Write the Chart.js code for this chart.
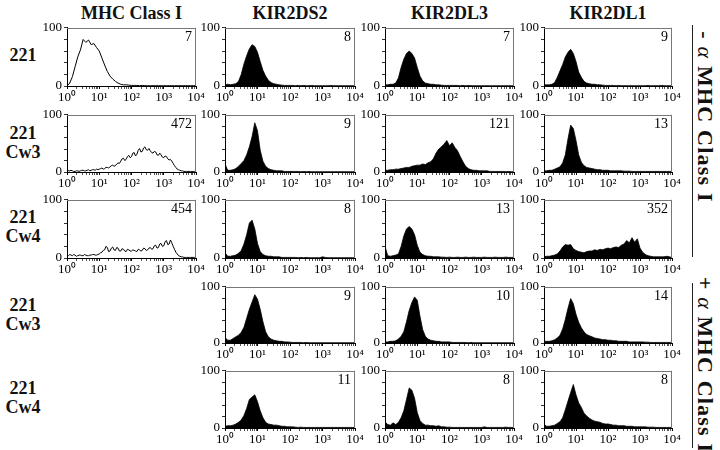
<!DOCTYPE html>
<html><head><meta charset="utf-8">
<script src="https://cdn.jsdelivr.net/npm/chart.js@4.4.1/dist/chart.umd.min.js"></script>
<style>
html,body{margin:0;padding:0;background:#fff;}
#fig{position:relative;width:720px;height:450px;overflow:hidden;font-family:'Liberation Serif','Times New Roman',serif;color:#111;}
.hdr{position:absolute;font-weight:bold;font-size:18px;text-align:center;width:160px;line-height:20px;white-space:nowrap;}
.rl{position:absolute;font-weight:bold;font-size:18px;text-align:center;width:50px;line-height:19px;}
canvas{position:absolute;}
.vline{position:absolute;width:1px;background:#222;}
.vt{position:absolute;writing-mode:vertical-rl;font-weight:bold;font-size:22px;letter-spacing:1.2px;white-space:nowrap;line-height:24px;transform:translate(-50%,-50%);}
.vt i{font-weight:normal;}
</style></head>
<body><div id="fig"></div>
<script>
// ---------- labels ----------
const columns = ['MHC Class I','KIR2DS2','KIR2DL3','KIR2DL1'];
const rowLabels = [['221'],['221','Cw3'],['221','Cw4'],['221','Cw3'],['221','Cw4']];
const sideLabels = [['- ','α',' MHC Class I'],['+ ','α',' MHC Class I']];
const xTickLabels = ['10⁰','10¹','10²','10³','10⁴'];
const yTickLabels = ['0','100'];
const counts = [[7,8,7,9],[472,9,121,13],[454,8,13,352],[null,9,10,14],[null,11,8,8]];

// ---------- histogram values (equal log bins spanning 10^0 .. 10^4) ----------
const r1_mhc = [0,5,16,33,50,62,80,75,79,71,73,66,
  60,48,36,25,17,12,8,5,3,2,2,1.5,
  1,1,1,0.5,1,0.5,0.5,0.5,0.5,0.5,0.5,0.5,
  0.5,0.5,0.5,0.5,0.5,0.5,0.5,0.5,0.5,0.5,0.5,0.5, 0.5];
const r1_ds2 = [2,3,2,3,4,8,20,38,52,64,71,68,
  58,42,27,17,10,6,4,3,2,1.5,1,1,
  1,1,0.5,1,0.5,1,0.5,0.5,1,0.5,0.5,0.5,
  0.5,0.5,0.5,1,0.5,0.5,0.5,0.5,0.5,0.5,0.5,0.5, 0.5];
const r1_dl3 = [2,2,3,3,5,14,32,46,56,60,56,48,
  32,17,9,5,4,3,3,2,2,1.5,1,1,
  1,1,1,1,0.5,1,0.5,1,0.5,0.5,0.5,0.5,
  0.5,0.5,0.5,0.5,0.5,0.5,0.5,0.5,0.5,0.5,0.5,0.5, 0.5];
const r1_dl1 = [2,2,2,3,6,15,26,37,50,58,63,56,
  42,24,15,8,5,4,3,3,2,2,1.5,1,
  1,1,1,0.5,1,0.5,0.5,0.5,0.5,0.5,0.5,0.5,
  0.5,0.5,0.5,1,0.5,0.5,0.5,0.5,1,0.5,0.5,0.5, 0.5];

const r2_mhc = [6,2,2,3,2,1,1,2,2,1,2,3,3,2,2,3,4,2,3,4,4,3,5,4,
  5,6,7,5,6,8,8,7,9,11,12,10,11,14,16,15,19,23,24,20,22,27,29,25,
  27,33,34,28,31,38,41,35,36,42,44,39,38,41,37,34,33,36,35,30,29,33,30,26,
  25,28,27,23,21,22,19,15,11,8,5,4,3,2,2,1,1,1,1,1,1,0.5,1,1, 1];
const r2_ds2 = [14,3,3,4,6,10,15,20,30,44,62,86,
  72,38,19,10,6,4,3,2,2,2,1,1,
  1,1,1,1,0.5,1,0.5,1,0.5,0.5,0.5,0.5,
  0.5,0.5,0.5,0.5,0.5,0.5,0.5,0.5,0.5,0.5,0.5,0.5, 0.5];
const r2_dl3 = [3,3,4,4,5,5,6,7,8,8,10,11,
  12,12,14,13,16,18,23,33,40,44,49,55,
  46,51,43,37,27,18,10,6,4,3,3,2,
  2,2,2,1,1,1,1,1,1,0.5,1,0.5, 0.5];
const r2_dl1 = [2,2,3,3,5,7,9,16,30,58,82,76,
  55,30,17,11,8,7,6,5,4,4,3,3,
  3,2,2,2,2,2,1.5,1.5,1.5,1,1,1,
  1,1,1,1,1,1,1,1,1,1,1,1, 1];

const r3_mhc = [5,4,6,5,4,6,5,3,4,5,5,4,4,6,5,4,4,5,5,6,6,5,5,6,
  7,9,10,13,14,20,18,11,12,17,19,14,13,18,17,12,12,16,15,12,11,15,14,12,
  12,14,13,12,11,15,14,12,13,17,16,13,14,17,18,15,16,21,22,17,18,24,25,20,
  21,28,30,23,24,31,26,20,15,10,7,4,3,2,2,1,1,1,1,1,1,1,1,1, 1];
const r3_ds2 = [9,3,3,4,5,8,13,24,40,60,65,50,
  25,11,6,4,3,3,2,2,2,1,1,1,
  1,1,1,0.5,1,0.5,1,0.5,0.5,0.5,0.5,0.5,
  2,1,0.5,0.5,0.5,0.5,0.5,0.5,0.5,0.5,0.5,0.5, 0.5];
const r3_dl3 = [20,4,3,4,5,7,20,38,50,54,50,40,
  22,10,6,4,3,3,2,2,2,1.5,1.5,1,
  1.5,1,1,1.5,1,1,1.5,1,1,1.5,1,1,
  1,1.5,1,1,1,1.5,1,1,1,1.5,1,1, 1];
const r3_dl1 = [2,3,3,4,5,7,12,19,23,22,23,16,
  13,11,10,9,11,12,12,14,13,15,14,16,
  17,16,18,19,18,22,24,30,26,35,27,33,
  17,10,6,4,3,2,2,2,2,2,3,2, 1];

const r4_ds2 = [10,5,5,8,11,14,19,28,44,60,73,86,
  78,60,38,20,11,7,5,4,3,3,2,2,
  1.5,1,1,1,1,0.5,1,0.5,0.5,0.5,0.5,0.5,
  0.5,0.5,0.5,0.5,0.5,0.5,0.5,0.5,0.5,0.5,0.5,0.5, 0.5];
const r4_dl3 = [2,2,3,3,4,7,12,20,38,58,72,82,
  76,48,24,12,7,5,4,3,3,2,2,2,
  2,1,1,1,1,1,1,0.5,1,0.5,0.5,0.5,
  0.5,0.5,0.5,0.5,0.5,0.5,0.5,0.5,0.5,0.5,0.5,0.5, 0.5];
const r4_dl1 = [3,3,3,4,6,9,14,25,42,62,79,70,
  51,37,27,20,15,13,11,9,8,7,6,6,
  5,5,4,4,3,3,3,3,2,2,2,2,
  2,2,1.5,1.5,1,1,1,1,1,1,1,1, 1];

const r5_ds2 = [3,4,4,5,7,10,14,22,34,50,54,58,
  46,30,18,10,7,6,5,5,4,3,3,2,
  2,2,1.5,1,1.5,1,1,1,1,1,1,1,
  1,1,1,1,1,1,1,1,1,1,1,1, 1];
const r5_dl3 = [11,6,5,9,6,10,18,30,50,70,66,52,
  27,13,8,5,5,4,4,3,4,2,2,1.5,
  1.5,1,1,1,1,1,1,1,1,1,1,1,
  1,2,1,1,1,1,1,1,1,1.5,1,1, 1];
const r5_dl1 = [6,3,3,4,5,8,11,18,32,47,62,76,
  58,44,36,26,21,17,14,12,11,10,8,7,
  7,6,5,5,4,4,4,3,3,3,2,2,
  2,2,2,1.5,1.5,1.5,1,1,1,1,1,1, 1];

const series = [
  [r1_mhc, r1_ds2, r1_dl3, r1_dl1],
  [r2_mhc, r2_ds2, r2_dl3, r2_dl1],
  [r3_mhc, r3_ds2, r3_dl3, r3_dl1],
  [null,   r4_ds2, r4_dl3, r4_dl1],
  [null,   r5_ds2, r5_dl3, r5_dl1]
];
const DECADES = 4;

// ---------- layout (positions / styles) ----------
const COL_L = [67,225,385,544], COL_R = [196,355,514,672];
const ROW_T = [26,113,198,285,369], ROW_B = [86,172,258,343,428];
const AX_W = 32, AX_H = 20, PAD_T = 8, PAD_R = 12;
const FONT = "'Liberation Serif', 'Times New Roman', serif";
const fig = document.getElementById('fig');

// tick positions on the log axis (decades)
const xTickValues = [];
for (let d = 0; d < DECADES; d++) for (let m = 1; m <= 9; m++) xTickValues.push(d + Math.log10(m));
xTickValues.push(DECADES);
const yTickValues = [0,20,40,60,80,100];

// headers
columns.forEach((t, c) => {
  const el = document.createElement('div');
  el.className = 'hdr'; el.textContent = t;
  el.style.left = ((COL_L[c] + COL_R[c]) / 2 - 80) + 'px';
  el.style.top = '3px';
  fig.appendChild(el);
});
// row labels
const rowLabelTop = [45.5, 123.5, 207.5, 295.5, 378.5];
rowLabels.forEach((lines, r) => {
  const el = document.createElement('div');
  el.className = 'rl';
  el.innerHTML = lines.join('<br>');
  el.style.left = '-2px';
  el.style.top = rowLabelTop[r] + 'px';
  fig.appendChild(el);
});
// side labels + lines
const sideSpan = [[25,257],[283,448]];
const sideCenter = [117, 365];
sideLabels.forEach((parts, k) => {
  const ln = document.createElement('div');
  ln.className = 'vline';
  ln.style.left = '692px'; ln.style.top = sideSpan[k][0] + 'px';
  ln.style.height = (sideSpan[k][1] - sideSpan[k][0]) + 'px';
  fig.appendChild(ln);
  const el = document.createElement('div');
  el.className = 'vt';
  el.innerHTML = parts[0] + '<i>' + parts[1] + '</i>' + parts[2];
  el.style.left = '705px'; el.style.top = sideCenter[k] + 'px';
  fig.appendChild(el);
});

const boxPlugin = {
  id: 'countLabel',
  afterDatasetsDraw(chart, args, opts) {
    const { ctx, chartArea: a } = chart;
    ctx.save();
    ctx.strokeStyle = '#777'; ctx.lineWidth = 1;
    ctx.beginPath();
    ctx.moveTo(a.left, Math.round(a.top) + 0.5);
    ctx.lineTo(a.right, Math.round(a.top) + 0.5);
    ctx.moveTo(Math.round(a.right) - 0.5, a.top);
    ctx.lineTo(Math.round(a.right) - 0.5, a.bottom);
    ctx.stroke();
    if (opts.text) {
      ctx.fillStyle = '#000';
      ctx.font = '14px ' + FONT;
      ctx.textAlign = 'right'; ctx.textBaseline = 'top';
      ctx.fillText(opts.text, a.right - 4, a.top + 3);
    }
    ctx.restore();
  }
};

function makePanel(r, c) {
  const values = series[r][c];
  if (!values) return;
  const filled = c > 0;
  const cv = document.createElement('canvas');
  const w = COL_R[c] - COL_L[c] + AX_W + PAD_R;
  const h = ROW_B[r] - ROW_T[r] + PAD_T + AX_H;
  cv.width = w; cv.height = h;
  cv.style.width = w + 'px'; cv.style.height = h + 'px';
  cv.style.left = (COL_L[c] - AX_W) + 'px';
  cv.style.top = (ROW_T[r] - PAD_T) + 'px';
  fig.appendChild(cv);
  const step = DECADES / (values.length - 1);
  const pts = values.map((v, i) => ({ x: i * step, y: v }));
  new Chart(cv, {
    type: 'line',
    data: { datasets: [{
      data: pts, borderColor: '#000',
      backgroundColor: filled ? '#000' : 'rgba(0,0,0,0)',
      borderWidth: filled ? 0.8 : 1, fill: filled ? 'origin' : false,
      pointRadius: 0, tension: 0
    }] },
    options: {
      responsive: false, animation: false, events: [], devicePixelRatio: 1,
      layout: { padding: { top: PAD_T, right: PAD_R, left: 0, bottom: 0 } },
      plugins: { legend: { display: false }, tooltip: { enabled: false },
                 countLabel: { text: counts[r][c] == null ? '' : String(counts[r][c]) } },
      scales: {
        x: {
          type: 'linear', min: 0, max: DECADES,
          afterBuildTicks: s => { s.ticks = xTickValues.map(v => ({ value: v })); },
          afterFit: s => { s.height = AX_H; },
          ticks: { autoSkip: false, maxRotation: 0, minRotation: 0, padding: 1,
                   font: { family: FONT, size: 13 }, color: '#000',
                   callback: v => { const k = Math.round(v); return Math.abs(v - k) < 1e-9 ? xTickLabels[k] : ''; } },
          grid: { drawOnChartArea: false, drawTicks: true, tickLength: 3,
                  tickColor: ctx => (ctx.tick && Math.abs(ctx.tick.value - Math.round(ctx.tick.value)) < 1e-9) ? '#000' : '#555' },
          border: { display: true, color: '#000', width: 1 }
        },
        y: {
          type: 'linear', min: 0, max: 100,
          afterBuildTicks: s => { s.ticks = yTickValues.map(v => ({ value: v })); },
          afterFit: s => { s.width = AX_W; },
          ticks: { autoSkip: false, padding: 2, font: { family: FONT, size: 13 }, color: '#000',
                   callback: v => (v === 0 ? yTickLabels[0] : (v === 100 ? yTickLabels[1] : '')) },
          grid: { drawOnChartArea: false, drawTicks: true, tickLength: 3, tickColor: '#333' },
          border: { display: true, color: '#000', width: 1 }
        }
      }
    },
    plugins: [boxPlugin]
  });
}

for (let r = 0; r < 5; r++) for (let c = 0; c < 4; c++) makePanel(r, c);
</script>
</body></html>
